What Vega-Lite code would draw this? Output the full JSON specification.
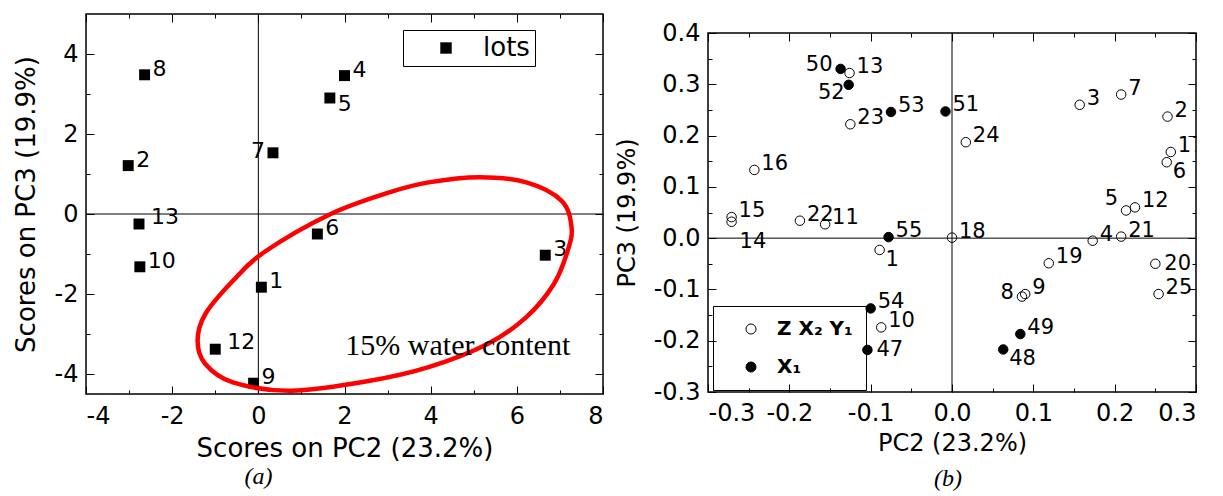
{
  "$schema": "https://vega.github.io/schema/vega-lite/v6.json",
  "background": "white",
  "padding": {"left": 12, "top": 12, "right": 4, "bottom": 4},
  "spacing": 9,
  "resolve": {"scale": {"fill": "independent"}, "legend": {"fill": "independent"}},
  "datasets": {
    "a": [
      {"id": "8", "pc2": -2.64, "pc3": 3.48, "grp": "lots", "pos": "r"},
      {"id": "4", "pc2": 2.0, "pc3": 3.46, "grp": "lots", "pos": "r"},
      {"id": "5", "pc2": 1.66, "pc3": 2.9, "grp": "lots", "pos": "rd"},
      {"id": "7", "pc2": 0.34, "pc3": 1.53, "grp": "lots", "pos": "l"},
      {"id": "2", "pc2": -3.02, "pc3": 1.21, "grp": "lots", "pos": "r"},
      {"id": "13", "pc2": -2.77, "pc3": -0.25, "grp": "lots", "pos": "rw"},
      {"id": "6", "pc2": 1.37, "pc3": -0.5, "grp": "lots", "pos": "r"},
      {"id": "10", "pc2": -2.75, "pc3": -1.32, "grp": "lots", "pos": "r"},
      {"id": "1", "pc2": 0.07, "pc3": -1.83, "grp": "lots", "pos": "r"},
      {"id": "12", "pc2": -1.0, "pc3": -3.38, "grp": "lots", "pos": "rw"},
      {"id": "9", "pc2": -0.11, "pc3": -4.23, "grp": "lots", "pos": "r"},
      {"id": "3", "pc2": 6.66, "pc3": -1.03, "grp": "lots", "pos": "r"}
    ],
    "ell": [
      {"i": 1, "pc2": -1.23, "pc3": -2.5},
      {"i": 2, "pc2": -0.59, "pc3": -1.67},
      {"i": 3, "pc2": 0.14, "pc3": -0.95},
      {"i": 4, "pc2": 1.68, "pc3": 0.0},
      {"i": 5, "pc2": 3.04, "pc3": 0.54},
      {"i": 6, "pc2": 3.95, "pc3": 0.79},
      {"i": 7, "pc2": 5.13, "pc3": 0.92},
      {"i": 8, "pc2": 6.22, "pc3": 0.79},
      {"i": 9, "pc2": 7.04, "pc3": 0.33},
      {"i": 10, "pc2": 7.27, "pc3": -0.33},
      {"i": 11, "pc2": 7.18, "pc3": -0.92},
      {"i": 12, "pc2": 6.86, "pc3": -1.75},
      {"i": 13, "pc2": 6.22, "pc3": -2.58},
      {"i": 14, "pc2": 5.32, "pc3": -3.25},
      {"i": 15, "pc2": 3.95, "pc3": -3.83},
      {"i": 16, "pc2": 2.59, "pc3": -4.17},
      {"i": 17, "pc2": 0.77, "pc3": -4.42},
      {"i": 18, "pc2": -0.59, "pc3": -4.21},
      {"i": 19, "pc2": -1.23, "pc3": -3.75},
      {"i": 20, "pc2": -1.41, "pc3": -3.17}
    ],
    "note": [{"pc2": 4.63, "pc3": -3.29, "note": "15% water content"}],
    "zero": [{"v": 0}],
    "b": [
      {"id": "13", "pc2": -0.126, "pc3": 0.322, "grp": "Z X₂ Y₁", "pos": "r"},
      {"id": "23", "pc2": -0.125, "pc3": 0.222, "grp": "Z X₂ Y₁", "pos": "r"},
      {"id": "24", "pc2": 0.017, "pc3": 0.187, "grp": "Z X₂ Y₁", "pos": "r"},
      {"id": "16", "pc2": -0.243, "pc3": 0.133, "grp": "Z X₂ Y₁", "pos": "r"},
      {"id": "3", "pc2": 0.157, "pc3": 0.26, "grp": "Z X₂ Y₁", "pos": "r"},
      {"id": "7", "pc2": 0.208, "pc3": 0.28, "grp": "Z X₂ Y₁", "pos": "r"},
      {"id": "2", "pc2": 0.265, "pc3": 0.237, "grp": "Z X₂ Y₁", "pos": "r"},
      {"id": "17", "pc2": 0.269, "pc3": 0.168, "grp": "Z X₂ Y₁", "pos": "r"},
      {"id": "6", "pc2": 0.264, "pc3": 0.148, "grp": "Z X₂ Y₁", "pos": "rd"},
      {"id": "5", "pc2": 0.214, "pc3": 0.054, "grp": "Z X₂ Y₁", "pos": "lu"},
      {"id": "12", "pc2": 0.225, "pc3": 0.06, "grp": "Z X₂ Y₁", "pos": "r"},
      {"id": "15", "pc2": -0.271, "pc3": 0.041, "grp": "Z X₂ Y₁", "pos": "r"},
      {"id": "14", "pc2": -0.271, "pc3": 0.032, "grp": "Z X₂ Y₁", "pos": "rd2"},
      {"id": "22", "pc2": -0.187, "pc3": 0.034, "grp": "Z X₂ Y₁", "pos": "r"},
      {"id": "11", "pc2": -0.156, "pc3": 0.027, "grp": "Z X₂ Y₁", "pos": "r"},
      {"id": "18", "pc2": 0.0, "pc3": 0.001, "grp": "Z X₂ Y₁", "pos": "r"},
      {"id": "4", "pc2": 0.173, "pc3": -0.005, "grp": "Z X₂ Y₁", "pos": "r"},
      {"id": "21", "pc2": 0.208, "pc3": 0.003, "grp": "Z X₂ Y₁", "pos": "r"},
      {"id": "1", "pc2": -0.089, "pc3": -0.023, "grp": "Z X₂ Y₁", "pos": "rd"},
      {"id": "19", "pc2": 0.119, "pc3": -0.049, "grp": "Z X₂ Y₁", "pos": "r"},
      {"id": "20", "pc2": 0.25, "pc3": -0.05, "grp": "Z X₂ Y₁", "pos": "r0"},
      {"id": "8", "pc2": 0.086, "pc3": -0.114, "grp": "Z X₂ Y₁", "pos": "l"},
      {"id": "9", "pc2": 0.09, "pc3": -0.109, "grp": "Z X₂ Y₁", "pos": "r"},
      {"id": "25", "pc2": 0.254, "pc3": -0.109, "grp": "Z X₂ Y₁", "pos": "r"},
      {"id": "10", "pc2": -0.087, "pc3": -0.174, "grp": "Z X₂ Y₁", "pos": "r"},
      {"id": "50", "pc2": -0.137, "pc3": 0.33, "grp": "X₁", "pos": "l"},
      {"id": "52", "pc2": -0.127, "pc3": 0.299, "grp": "X₁", "pos": "ld"},
      {"id": "53", "pc2": -0.075, "pc3": 0.246, "grp": "X₁", "pos": "r"},
      {"id": "51", "pc2": -0.008, "pc3": 0.247, "grp": "X₁", "pos": "r"},
      {"id": "55", "pc2": -0.078, "pc3": 0.002, "grp": "X₁", "pos": "r"},
      {"id": "54", "pc2": -0.1, "pc3": -0.137, "grp": "X₁", "pos": "r"},
      {"id": "49", "pc2": 0.084, "pc3": -0.187, "grp": "X₁", "pos": "r"},
      {"id": "47", "pc2": -0.104, "pc3": -0.218, "grp": "X₁", "pos": "r0"},
      {"id": "48", "pc2": 0.063, "pc3": -0.217, "grp": "X₁", "pos": "rd"}
    ]
  },
  "hconcat": [
    {
      "width": 517,
      "height": 380,
      "data": {"name": "a"},
      "title": {"text": "(a)", "orient": "bottom", "anchor": "middle", "frame": "group", "dx": -86, "offset": 4, "font": "Liberation Serif", "fontStyle": "italic", "fontWeight": "normal", "fontSize": 24, "color": "black"},
      "resolve": {"axis": {"x": "independent", "y": "independent"}},
      "layer": [
        {
          "data": {"name": "zero"},
          "mark": {"type": "rule", "color": "black", "strokeWidth": 1},
          "encoding": {"x": {"field": "v", "type": "quantitative", "scale": {"domain": [-4, 8], "nice": false, "zero": false}, "axis": null}}
        },
        {
          "data": {"name": "zero"},
          "mark": {"type": "rule", "color": "black", "strokeWidth": 1},
          "encoding": {"y": {"field": "v", "type": "quantitative", "scale": {"domain": [-4.5, 5], "nice": false, "zero": false}, "axis": null}}
        },
        {
          "mark": {"type": "point", "shape": "square", "filled": true, "size": 120, "opacity": 1},
          "encoding": {
            "x": {"field": "pc2", "type": "quantitative", "scale": {"domain": [-4, 8], "nice": false, "zero": false},
              "axis": {"orient": "bottom", "values": [-4, -2, 0, 2, 4, 6, 8], "ticks": false, "labelPadding": 10, "labelFontSize": 24, "labelExpr": "replace(datum.label, '\u2212', '-')", "title": "Scores on PC2 (23.2%)", "titleFontSize": 26, "titlePadding": 7}},
            "y": {"field": "pc3", "type": "quantitative", "scale": {"domain": [-4.5, 5], "nice": false, "zero": false},
              "axis": {"orient": "left", "values": [-4, -2, 0, 2, 4], "ticks": false, "labelPadding": 8, "labelFontSize": 24, "labelExpr": "replace(datum.label, '\u2212', '-')", "title": "Scores on PC3 (19.9%)", "titleFontSize": 26, "titlePadding": 15}},
            "fill": {"field": "grp", "type": "nominal", "scale": {"domain": ["lots"], "range": ["black"]},
              "legend": {"title": null, "orient": "none", "legendX": 317, "legendY": 16, "strokeColor": "black", "padding": 5, "symbolType": "square", "symbolSize": 130, "symbolOffset": 25, "symbolStrokeWidth": 0, "symbolFillColor": "black", "labelFontSize": 26, "labelOffset": 24, "labelFont": "DejaVu Sans", "labelColor": "black"}}
          }
        },
        {
          "transform": [{"filter": "datum.pos == 'r'"}],
          "mark": {"type": "text", "align": "left", "baseline": "middle", "dx": 8, "dy": -6, "fontSize": 22, "font": "DejaVu Sans", "color": "black"},
          "encoding": {
            "x": {"field": "pc2", "type": "quantitative", "scale": {"domain": [-4, 8], "nice": false, "zero": false},
              "axis": {"orient": "top", "values": [-4, -2, 0, 2, 4, 6, 8], "labels": false, "title": null, "tickSize": -8}},
            "y": {"field": "pc3", "type": "quantitative", "scale": {"domain": [-4.5, 5], "nice": false, "zero": false},
              "axis": {"orient": "right", "values": [-4, -2, 0, 2, 4], "labels": false, "title": null, "tickSize": -8}},
            "text": {"field": "id"}
          }
        },
        {
          "transform": [{"filter": "datum.pos == 'rw'"}],
          "mark": {"type": "text", "align": "left", "baseline": "middle", "dx": 12, "dy": -7, "fontSize": 22, "font": "DejaVu Sans", "color": "black"},
          "encoding": {
            "x": {"field": "pc2", "type": "quantitative", "scale": {"domain": [-4, 8], "nice": false, "zero": false},
              "axis": {"orient": "top", "values": [-3, -1, 1, 3, 5, 7], "labels": false, "title": null, "tickSize": -4}},
            "y": {"field": "pc3", "type": "quantitative", "scale": {"domain": [-4.5, 5], "nice": false, "zero": false},
              "axis": {"orient": "right", "values": [-3, -1, 1, 3], "labels": false, "title": null, "tickSize": -4}},
            "text": {"field": "id"}
          }
        },
        {
          "transform": [{"filter": "datum.pos == 'rd'"}],
          "mark": {"type": "text", "align": "left", "baseline": "middle", "dx": 8, "dy": 6, "fontSize": 22, "font": "DejaVu Sans", "color": "black"},
          "encoding": {
            "x": {"field": "pc2", "type": "quantitative", "scale": {"domain": [-4, 8], "nice": false, "zero": false}, "axis": null},
            "y": {"field": "pc3", "type": "quantitative", "scale": {"domain": [-4.5, 5], "nice": false, "zero": false}, "axis": null},
            "text": {"field": "id"}
          }
        },
        {
          "transform": [{"filter": "datum.pos == 'l'"}],
          "mark": {"type": "text", "align": "right", "baseline": "middle", "dx": -8, "dy": -2, "fontSize": 22, "font": "DejaVu Sans", "color": "black"},
          "encoding": {
            "x": {"field": "pc2", "type": "quantitative", "scale": {"domain": [-4, 8], "nice": false, "zero": false}, "axis": null},
            "y": {"field": "pc3", "type": "quantitative", "scale": {"domain": [-4.5, 5], "nice": false, "zero": false}, "axis": null},
            "text": {"field": "id"}
          }
        },
        {
          "data": {"name": "ell"},
          "mark": {"type": "line", "interpolate": "cardinal-closed", "color": "#ff0000", "strokeWidth": 4.5},
          "encoding": {
            "x": {"field": "pc2", "type": "quantitative", "scale": {"domain": [-4, 8], "nice": false, "zero": false},
              "axis": {"orient": "bottom", "values": [-4, -2, 0, 2, 4, 6, 8], "labels": false, "title": null, "tickSize": -8}},
            "y": {"field": "pc3", "type": "quantitative", "scale": {"domain": [-4.5, 5], "nice": false, "zero": false},
              "axis": {"orient": "left", "values": [-4, -2, 0, 2, 4], "labels": false, "title": null, "tickSize": -8}},
            "order": {"field": "i", "type": "quantitative"}
          }
        },
        {
          "data": {"name": "note"},
          "mark": {"type": "text", "align": "center", "baseline": "middle", "fontSize": 30, "font": "Liberation Serif", "color": "black"},
          "encoding": {
            "x": {"field": "pc2", "type": "quantitative", "scale": {"domain": [-4, 8], "nice": false, "zero": false},
              "axis": {"orient": "bottom", "values": [-3, -1, 1, 3, 5, 7], "labels": false, "title": null, "tickSize": -4}},
            "y": {"field": "pc3", "type": "quantitative", "scale": {"domain": [-4.5, 5], "nice": false, "zero": false},
              "axis": {"orient": "left", "values": [-3, -1, 1, 3], "labels": false, "title": null, "tickSize": -4}},
            "text": {"field": "note"}
          }
        }
      ]
    },
    {
      "spacing": 0,
      "vconcat": [
        {
          "width": 488,
          "height": 6,
          "data": {"values": []},
          "mark": {"type": "point"},
          "view": {"stroke": null}
        },
        {
          "width": 488,
          "height": 359,
          "data": {"name": "b"},
          "title": {"text": "(b)", "orient": "bottom", "anchor": "middle", "frame": "group", "dx": -4, "offset": 12, "font": "Liberation Serif", "fontStyle": "italic", "fontWeight": "normal", "fontSize": 24, "color": "black"},
          "resolve": {"axis": {"x": "independent", "y": "independent"}},
          "layer": [
            {
              "data": {"name": "zero"},
              "mark": {"type": "rule", "color": "black", "strokeWidth": 1},
              "encoding": {"x": {"field": "v", "type": "quantitative", "scale": {"domain": [-0.3, 0.3], "nice": false, "zero": false}, "axis": null}}
            },
            {
              "data": {"name": "zero"},
              "mark": {"type": "rule", "color": "black", "strokeWidth": 1},
              "encoding": {"y": {"field": "v", "type": "quantitative", "scale": {"domain": [-0.3, 0.4], "nice": false, "zero": false}, "axis": null}}
            },
            {
              "mark": {"type": "point", "shape": "circle", "size": 90, "stroke": "black", "strokeWidth": 1, "opacity": 1},
              "encoding": {
                "x": {"field": "pc2", "type": "quantitative", "scale": {"domain": [-0.3, 0.3], "nice": false, "zero": false},
                  "axis": {"orient": "bottom", "values": [-0.3, -0.2, -0.1, 0, 0.1, 0.2, 0.3], "ticks": false, "labelPadding": 9, "labelFontSize": 24, "labelExpr": "replace(format(datum.value, '.1f'), '\u2212', '-')", "title": "PC2 (23.2%)", "titleFontSize": 24, "titlePadding": 6}},
                "y": {"field": "pc3", "type": "quantitative", "scale": {"domain": [-0.3, 0.4], "nice": false, "zero": false},
                  "axis": {"orient": "left", "values": [-0.3, -0.2, -0.1, 0, 0.1, 0.2, 0.3, 0.4], "ticks": false, "labelPadding": 8, "labelFontSize": 24, "labelExpr": "replace(format(datum.value, '.1f'), '\u2212', '-')", "title": "PC3 (19.9%)", "titleFontSize": 24, "titlePadding": 14}},
                "fill": {"field": "grp", "type": "nominal", "scale": {"domain": ["Z X₂ Y₁", "X₁"], "range": ["transparent", "black"]},
                  "legend": {"title": null, "orient": "none", "legendX": 5, "legendY": 292, "strokeColor": "black", "padding": 13, "symbolType": "circle", "symbolSize": 100, "symbolOffset": 15, "symbolStrokeColor": "black", "symbolStrokeWidth": 1, "labelFontSize": 20, "labelFontWeight": "bold", "labelFont": "DejaVu Sans", "labelColor": "black", "labelOffset": 16, "rowPadding": 18}}
              }
            },
            {
              "transform": [{"filter": "datum.pos == 'r'"}],
              "mark": {"type": "text", "align": "left", "baseline": "middle", "dx": 7, "dy": -6, "fontSize": 21, "font": "DejaVu Sans", "color": "black", "clip": true},
              "encoding": {
                "x": {"field": "pc2", "type": "quantitative", "scale": {"domain": [-0.3, 0.3], "nice": false, "zero": false},
                  "axis": {"orient": "bottom", "values": [-0.3, -0.2, -0.1, 0, 0.1, 0.2, 0.3], "labels": false, "title": null, "tickSize": -8}},
                "y": {"field": "pc3", "type": "quantitative", "scale": {"domain": [-0.3, 0.4], "nice": false, "zero": false},
                  "axis": {"orient": "left", "values": [-0.3, -0.2, -0.1, 0, 0.1, 0.2, 0.3, 0.4], "labels": false, "title": null, "tickSize": -8}},
                "text": {"field": "id"}
              }
            },
            {
              "transform": [{"filter": "datum.pos == 'rd'"}],
              "mark": {"type": "text", "align": "left", "baseline": "middle", "dx": 6, "dy": 10, "fontSize": 21, "font": "DejaVu Sans", "color": "black", "clip": true},
              "encoding": {
                "x": {"field": "pc2", "type": "quantitative", "scale": {"domain": [-0.3, 0.3], "nice": false, "zero": false},
                  "axis": {"orient": "bottom", "values": [-0.25, -0.15, -0.05, 0.05, 0.15, 0.25], "labels": false, "title": null, "tickSize": -4}},
                "y": {"field": "pc3", "type": "quantitative", "scale": {"domain": [-0.3, 0.4], "nice": false, "zero": false},
                  "axis": {"orient": "left", "values": [-0.25, -0.15, -0.05, 0.05, 0.15, 0.25, 0.35], "labels": false, "title": null, "tickSize": -4}},
                "text": {"field": "id"}
              }
            },
            {
              "transform": [{"filter": "datum.pos == 'l'"}],
              "mark": {"type": "text", "align": "right", "baseline": "middle", "dx": -8, "dy": -4, "fontSize": 21, "font": "DejaVu Sans", "color": "black", "clip": true},
              "encoding": {
                "x": {"field": "pc2", "type": "quantitative", "scale": {"domain": [-0.3, 0.3], "nice": false, "zero": false},
                  "axis": {"orient": "top", "values": [-0.3, -0.2, -0.1, 0, 0.1, 0.2, 0.3], "labels": false, "title": null, "tickSize": -8}},
                "y": {"field": "pc3", "type": "quantitative", "scale": {"domain": [-0.3, 0.4], "nice": false, "zero": false},
                  "axis": {"orient": "right", "values": [-0.3, -0.2, -0.1, 0, 0.1, 0.2, 0.3, 0.4], "labels": false, "title": null, "tickSize": -8}},
                "text": {"field": "id"}
              }
            },
            {
              "transform": [{"filter": "datum.pos == 'ld'"}],
              "mark": {"type": "text", "align": "right", "baseline": "middle", "dx": -4, "dy": 8, "fontSize": 21, "font": "DejaVu Sans", "color": "black", "clip": true},
              "encoding": {
                "x": {"field": "pc2", "type": "quantitative", "scale": {"domain": [-0.3, 0.3], "nice": false, "zero": false},
                  "axis": {"orient": "top", "values": [-0.25, -0.15, -0.05, 0.05, 0.15, 0.25], "labels": false, "title": null, "tickSize": -4}},
                "y": {"field": "pc3", "type": "quantitative", "scale": {"domain": [-0.3, 0.4], "nice": false, "zero": false},
                  "axis": {"orient": "right", "values": [-0.25, -0.15, -0.05, 0.05, 0.15, 0.25, 0.35], "labels": false, "title": null, "tickSize": -4}},
                "text": {"field": "id"}
              }
            },
            {
              "transform": [{"filter": "datum.pos == 'lu'"}],
              "mark": {"type": "text", "align": "right", "baseline": "middle", "dx": -8, "dy": -11, "fontSize": 21, "font": "DejaVu Sans", "color": "black", "clip": true},
              "encoding": {
                "x": {"field": "pc2", "type": "quantitative", "scale": {"domain": [-0.3, 0.3], "nice": false, "zero": false}, "axis": null},
                "y": {"field": "pc3", "type": "quantitative", "scale": {"domain": [-0.3, 0.4], "nice": false, "zero": false}, "axis": null},
                "text": {"field": "id"}
              }
            },
            {
              "transform": [{"filter": "datum.pos == 'r0'"}],
              "mark": {"type": "text", "align": "left", "baseline": "middle", "dx": 9, "dy": 0, "fontSize": 21, "font": "DejaVu Sans", "color": "black", "clip": true},
              "encoding": {
                "x": {"field": "pc2", "type": "quantitative", "scale": {"domain": [-0.3, 0.3], "nice": false, "zero": false}, "axis": null},
                "y": {"field": "pc3", "type": "quantitative", "scale": {"domain": [-0.3, 0.4], "nice": false, "zero": false}, "axis": null},
                "text": {"field": "id"}
              }
            },
            {
              "transform": [{"filter": "datum.pos == 'rd2'"}],
              "mark": {"type": "text", "align": "left", "baseline": "middle", "dx": 8, "dy": 20, "fontSize": 21, "font": "DejaVu Sans", "color": "black", "clip": true},
              "encoding": {
                "x": {"field": "pc2", "type": "quantitative", "scale": {"domain": [-0.3, 0.3], "nice": false, "zero": false}, "axis": null},
                "y": {"field": "pc3", "type": "quantitative", "scale": {"domain": [-0.3, 0.4], "nice": false, "zero": false}, "axis": null},
                "text": {"field": "id"}
              }
            }
          ]
        }
      ]
    }
  ],
  "config": {
    "view": {"stroke": "black", "strokeWidth": 1.5},
    "axis": {"domain": false, "grid": false, "labelFont": "DejaVu Sans", "titleFont": "DejaVu Sans", "labelColor": "black", "titleColor": "black", "tickColor": "black", "tickWidth": 1, "titleFontWeight": "normal"},
    "legend": {"labelFont": "DejaVu Sans", "labelColor": "black"}
  }
}
